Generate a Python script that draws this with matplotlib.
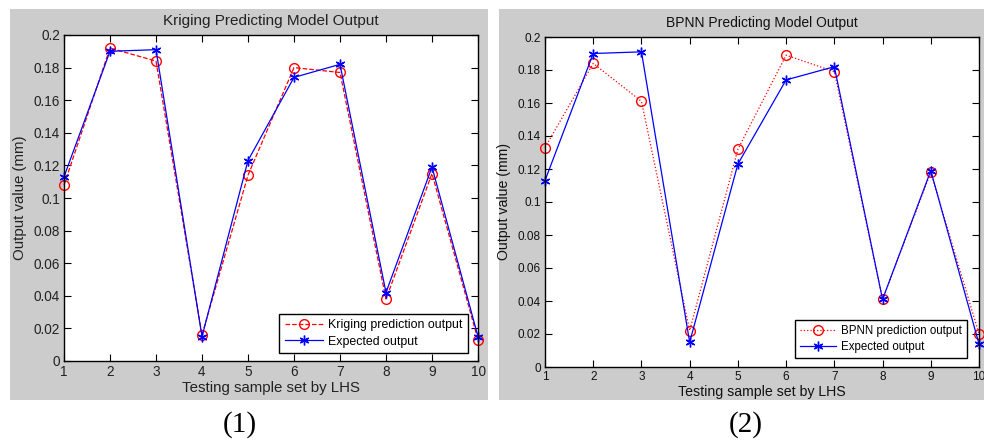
import numpy as np
import matplotlib
matplotlib.use("Agg")
import matplotlib.pyplot as plt
from matplotlib.patches import Rectangle

plt.rcParams["font.family"] = ["Liberation Sans", "DejaVu Sans"]

samples = [1, 2, 3, 4, 5, 6, 7, 8, 9, 10]

# panel (1): kriging
kriging_pred = [0.108, 0.192, 0.184, 0.016, 0.114, 0.180, 0.177, 0.038, 0.115, 0.013]
kriging_expected = [0.113, 0.190, 0.191, 0.015, 0.123, 0.174, 0.182, 0.042, 0.119, 0.015]

# panel (2): BPNN
bpnn_pred = [0.133, 0.184, 0.161, 0.022, 0.132, 0.189, 0.179, 0.041, 0.118, 0.020]
bpnn_expected = [0.113, 0.190, 0.191, 0.015, 0.123, 0.174, 0.182, 0.041, 0.119, 0.014]

yticks = [0, 0.02, 0.04, 0.06, 0.08, 0.1, 0.12, 0.14, 0.16, 0.18, 0.2]
ytick_labels = ["0", "0.02", "0.04", "0.06", "0.08", "0.1", "0.12", "0.14",
                "0.16", "0.18", "0.2"]

W, H = 984, 442
fig = plt.figure(figsize=(W / 100, H / 100), dpi=100)
fig.patch.set_facecolor("white")


def px_rect(x0, y0, x1, y1):
    return [x0 / W, 1 - y1 / H, (x1 - x0) / W, (y1 - y0) / H]


# grey MATLAB figure backgrounds
for x0, x1 in [(10, 488), (499, 984)]:
    r = px_rect(x0, 9, x1, 400)
    fig.patches.append(Rectangle((r[0], r[1]), r[2], r[3], transform=fig.transFigure,
                                 facecolor="#cccccc", edgecolor="none", zorder=-1))

panels = [
    dict(rect=px_rect(64, 35, 478, 361), pred=kriging_pred, exp=kriging_expected,
         ls="--", title="Kriging Predicting Model Output",
         label="Kriging prediction output", leg=(0.976, 0.024), caption="(1)", cx=240,
         fs_tick=9.8, fs_title=11, fs_label=10.8, fs_leg=8.9, txt="#222222"),
    dict(rect=px_rect(545, 37, 979, 367), pred=bpnn_pred, exp=bpnn_expected,
         ls=":", title="BPNN Predicting Model Output",
         label="BPNN prediction output", leg=(0.972, 0.027), caption="(2)", cx=746,
         fs_tick=8.5, fs_title=10, fs_label=10.2, fs_leg=8.3, txt="#111111"),
]

for p in panels:
    ax = fig.add_axes(p["rect"])
    ax.set_facecolor("white")
    ax.plot(samples, p["pred"], color="red", linestyle=p["ls"], linewidth=0.9,
            marker="o", markersize=7, markerfacecolor="none", markeredgecolor="red",
            label=p["label"], clip_on=False)
    ax.plot(samples, p["exp"], color="blue", linestyle="-", linewidth=0.9,
            marker=(6, 2, 0), markersize=7, markeredgewidth=1.0,
            label="Expected output", clip_on=False)
    ax.set_xlim(1, 10)
    ax.set_ylim(0, 0.2)
    ax.set_xticks(samples)
    ax.set_yticks(yticks)
    ax.set_yticklabels(ytick_labels)
    ax.tick_params(direction="in", top=True, right=True, length=5, width=0.8,
                   labelsize=p["fs_tick"], labelcolor=p["txt"], pad=3)
    for s in ax.spines.values():
        s.set_linewidth(1.0)
    ax.set_title(p["title"], fontsize=p["fs_title"], pad=7, color=p["txt"])
    ax.set_xlabel("Testing sample set by LHS", fontsize=p["fs_label"], labelpad=1,
                  color=p["txt"])
    ax.set_ylabel("Output value (mm)", fontsize=p["fs_label"], labelpad=5,
                  color=p["txt"])
    leg = ax.legend(loc="lower right", bbox_to_anchor=p["leg"], fontsize=p["fs_leg"],
                    fancybox=False, framealpha=1, edgecolor="black",
                    borderpad=0.45, labelspacing=0.35, handlelength=3.1,
                    handletextpad=0.4, borderaxespad=0)
    leg.get_frame().set_linewidth(1.0)
    fig.text(p["cx"] / W, 1 - 425 / H, p["caption"], fontsize=21,
             family=["Liberation Serif", "DejaVu Serif"], ha="center", va="center")

fig.savefig("out.png", dpi=100, facecolor="white")
